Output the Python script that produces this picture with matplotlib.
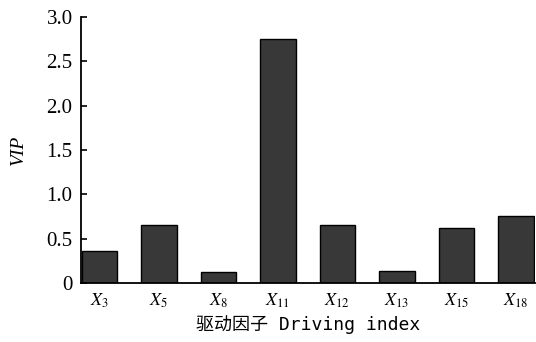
import matplotlib
matplotlib.use("Agg")
import matplotlib.pyplot as plt

# driving factors and their VIP scores
factors = ["3", "5", "8", "11", "12", "13", "15", "18"]
vip = [0.36, 0.65, 0.12, 2.75, 0.65, 0.13, 0.62, 0.76]
yticks = [0, 0.5, 1.0, 1.5, 2.0, 2.5, 3.0]
ytick_labels = ["0", "0.5", "1.0", "1.5", "2.0", "2.5", "3.0"]

plt.rcParams['font.family'] = 'serif'
plt.rcParams['font.serif'] = ['Liberation Serif', 'DejaVu Serif']
plt.rcParams['mathtext.fontset'] = 'stix'

fig = plt.figure(figsize=(5.36, 3.42), dpi=100)
ax = fig.add_axes([0.151, 0.1725, 0.847, 0.7775])

x = range(len(factors))
ax.bar(x, vip, width=0.6, color="#383838", edgecolor="black", linewidth=1.0)

ax.set_xlim(-0.31, len(factors) - 0.68)
ax.set_ylim(0, 3.0)
ax.set_yticks(yticks)
ax.set_yticklabels(ytick_labels, fontsize=15)
ax.set_xticks(list(x))
ax.set_xticklabels([r"$X_{%s}$" % f for f in factors], fontsize=13)

ax.spines["top"].set_visible(False)
ax.spines["right"].set_visible(False)
ax.spines["left"].set_linewidth(1.3)
ax.spines["bottom"].set_linewidth(1.3)
ax.tick_params(axis="y", direction="in", length=4, width=1.2, pad=6)
ax.tick_params(axis="x", length=0, pad=6)

ax.set_ylabel("VIP", fontsize=14, style="italic", labelpad=14)
# monospace latin like the original, CJK falls back to Noto
ax.set_xlabel("驱动因子 Driving index", fontsize=13, labelpad=4,
              family=['DejaVu Sans Mono', 'Noto Sans CJK SC'])

fig.savefig("out.png", dpi=100)
